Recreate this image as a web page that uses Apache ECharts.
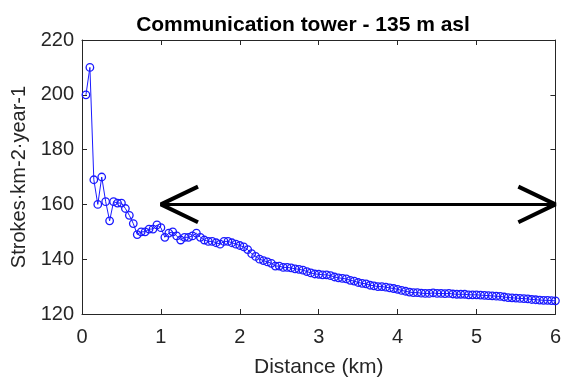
<!DOCTYPE html>
<html>
<head>
<meta charset="utf-8">
<script src="https://cdn.jsdelivr.net/npm/echarts@6/dist/echarts.min.js"></script>
<style>html,body{margin:0;padding:0;background:#fff}#c{width:564px;height:383px}</style>
</head>
<body>
<div id="c"></div>
<script>
const distanceKm = [0.05,0.10,0.15,0.20,0.25,0.30,0.35,0.40,0.45,0.50,
0.55,0.60,0.65,0.70,0.75,0.80,0.85,0.90,0.95,1.00,
1.05,1.10,1.15,1.20,1.25,1.30,1.35,1.40,1.45,1.50,
1.55,1.60,1.65,1.70,1.75,1.80,1.85,1.90,1.95,2.00,
2.05,2.10,2.15,2.20,2.25,2.30,2.35,2.40,2.45,2.50,
2.55,2.60,2.65,2.70,2.75,2.80,2.85,2.90,2.95,3.00,
3.05,3.10,3.15,3.20,3.25,3.30,3.35,3.40,3.45,3.50,
3.55,3.60,3.65,3.70,3.75,3.80,3.85,3.90,3.95,4.00,
4.05,4.10,4.15,4.20,4.25,4.30,4.35,4.40,4.45,4.50,
4.55,4.60,4.65,4.70,4.75,4.80,4.85,4.90,4.95,5.00,
5.05,5.10,5.15,5.20,5.25,5.30,5.35,5.40,5.45,5.50,
5.55,5.60,5.65,5.70,5.75,5.80,5.85,5.90,5.95,6.00];
const strokeDensity = [200,210,169,160,170,161,154,161,160.5,160.5,
158.5,156,153,149,150,150,151,151,152.5,151.5,
148,149.5,150,148.5,147,148,148,148.5,149.5,148,
147,146.5,146.5,146,145.5,146.5,146.5,146,145.5,145,
144.5,143.5,142,141,140,139.5,139,138.5,137.5,137.5,
137,137,136.8,136.5,136.3,136,135.5,135,134.6,134.5,
134.3,134.3,134,133.5,133.2,133,132.8,132.3,132,131.5,
131.2,131,130.5,130.3,130,130,129.8,129.5,129.3,129,
128.6,128.3,128,127.8,127.8,127.6,127.5,127.5,127.7,127.5,
127.5,127.4,127.5,127.3,127.2,127.2,127.2,127,127,127,
126.9,126.8,126.7,126.6,126.5,126.4,126.2,126,125.9,125.8,
125.7,125.6,125.5,125.3,125.2,125.1,125,125,124.9,124.8];
const xTicks = [0,1,2,3,4,5,6];
const yTicks = [120,140,160,180,200,220];
// double arrow annotation (data coordinates)
const arrowShaft = [[1,160],[6,160]];
const arrowLeftHead = [[1.47,166.5],[1,160],[1.47,153.5]];
const arrowRightHead = [[5.53,166.5],[6,160],[5.53,153.5]];

const FONT = 'Liberation Sans, Arial, sans-serif';
const axisCol = '#262626';
const chart = echarts.init(document.getElementById('c'), null, {renderer:'canvas'});
const xBase = {type:'value', min:xTicks[0], max:xTicks[xTicks.length-1], interval:1,
  axisLine:{show:true,onZero:false,lineStyle:{color:axisCol,width:1}},
  axisTick:{show:true,inside:true,length:5,lineStyle:{color:axisCol}},
  splitLine:{show:false}};
const yBase = {type:'value', min:yTicks[0], max:yTicks[yTicks.length-1], interval:20,
  axisLine:{show:true,onZero:false,lineStyle:{color:axisCol,width:1}},
  axisTick:{show:true,inside:true,length:5,lineStyle:{color:axisCol}},
  splitLine:{show:false}};
chart.setOption({
  animation:false,
  backgroundColor:'#fff',
  title:{text:'Communication tower - 135 m asl', left:298, top:10, textAlign:'center',
    textStyle:{fontFamily:FONT,fontSize:21,fontWeight:'bold',color:'#000'}},
  grid:{left:82,top:40,width:476,height:278},
  xAxis:[
    Object.assign({}, xBase, {position:'bottom',
      axisLabel:{show:true,fontFamily:FONT,fontSize:20,color:axisCol,margin:13},
      name:'Distance (km)', nameLocation:'middle', nameGap:43,
      nameTextStyle:{fontFamily:FONT,fontSize:21,color:axisCol}}),
    Object.assign({}, xBase, {position:'top', axisLabel:{show:false}})
  ],
  yAxis:[
    Object.assign({}, yBase, {position:'left',
      axisLabel:{show:true,fontFamily:FONT,fontSize:20,color:axisCol,margin:8},
      name:'Strokes·km-2·year-1', nameLocation:'middle', nameGap:50,
      nameTextStyle:{fontFamily:FONT,fontSize:20,color:axisCol}}),
    Object.assign({}, yBase, {position:'right', axisLabel:{show:false}})
  ],
  series:[
    {type:'line', data:distanceKm.map((d,i)=>[d,strokeDensity[i]]),
      symbol:'circle', symbolSize:7.5, showSymbol:true,
      lineStyle:{color:'#1a1aff',width:1},
      itemStyle:{color:'rgba(0,0,0,0)',borderColor:'#1a1aff',borderWidth:1.3},
      z:3},
    {type:'line', data:arrowShaft, symbol:'none', lineStyle:{color:'#000',width:3}, z:4},
    {type:'line', data:arrowLeftHead, symbol:'none', lineStyle:{color:'#000',width:4}, z:4},
    {type:'line', data:arrowRightHead, symbol:'none', lineStyle:{color:'#000',width:4}, z:4}
  ]
});
</script>
</body>
</html>
